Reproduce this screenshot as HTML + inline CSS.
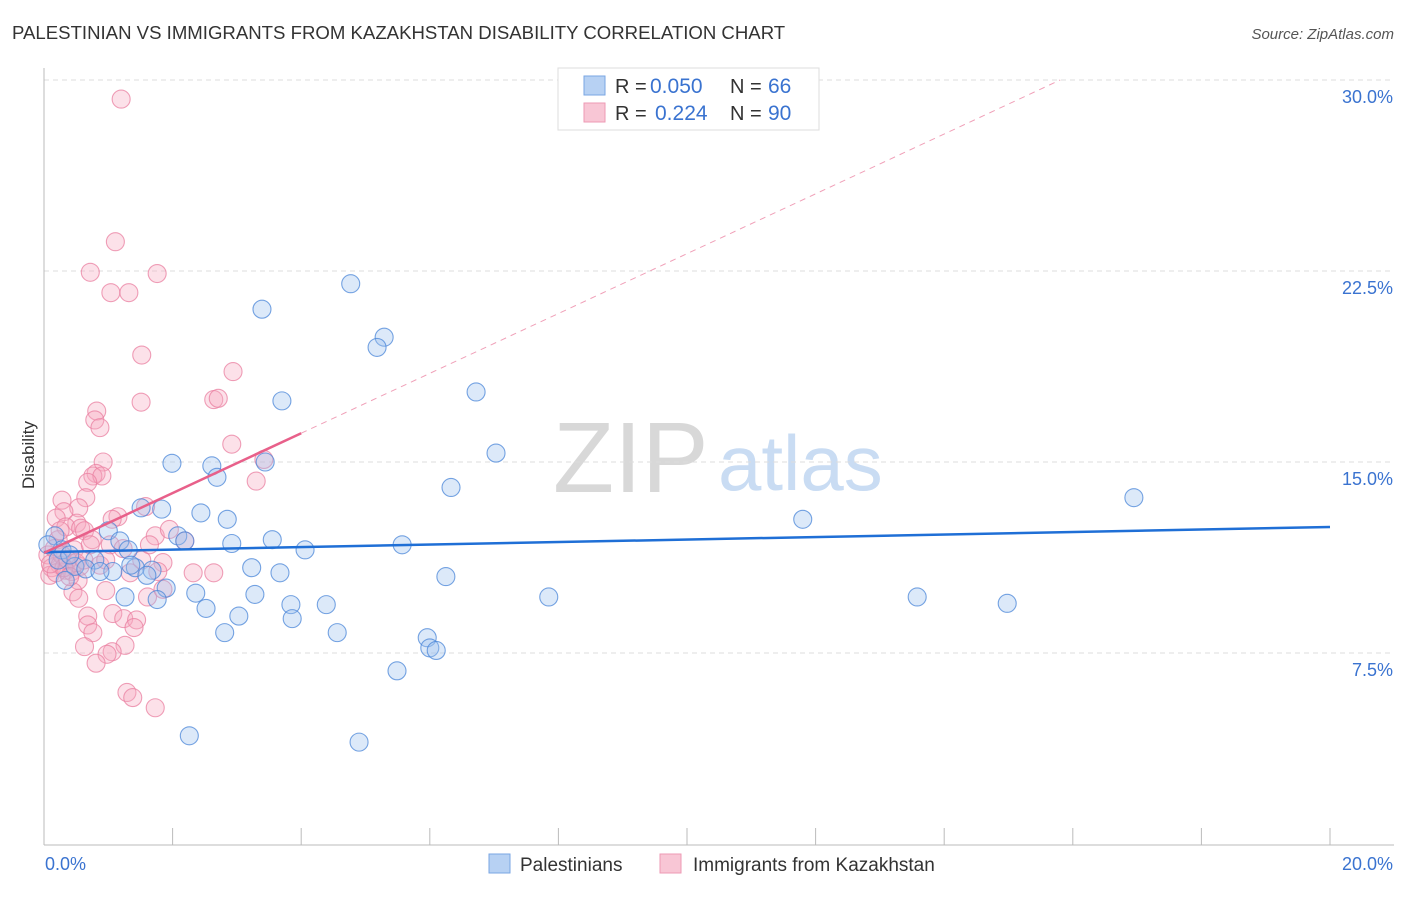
<!DOCTYPE html>
<html><head><meta charset="utf-8"><style>
body{margin:0;background:#fff;font-family:"Liberation Sans",sans-serif;}
svg text{font-family:"Liberation Sans",sans-serif;}
</style></head><body>
<svg id="c" width="1406" height="892" xmlns="http://www.w3.org/2000/svg">
<text x="12" y="39" font-size="18.6" fill="#333">PALESTINIAN VS IMMIGRANTS FROM KAZAKHSTAN DISABILITY CORRELATION CHART</text>
<text x="1394" y="39" font-size="15" fill="#555" font-style="italic" text-anchor="end">Source: ZipAtlas.com</text>
<text x="553" y="492" font-size="100" fill="#d8d8d8" font-family="Liberation Serif">ZIP</text>
<text x="718" y="490" font-size="78" fill="#c9dcf3">atlas</text>
<text x="34" y="455" font-size="17" fill="#333" text-anchor="middle" transform="rotate(-90 34 455)">Disability</text>
<g id="grid"></g><g id="axes"></g><g id="pts"></g><g id="lines"></g>
<g>
<rect x="558" y="68" width="261" height="62" fill="#fff" stroke="#ddd"/>
<rect x="584" y="76" width="21" height="19" fill="#b7d1f3" stroke="#7aa6e3"/>
<text x="615" y="93" font-size="20" fill="#333">R =</text>
<text x="650" y="93" font-size="21" fill="#3a73d0">0.050</text>
<text x="730" y="93" font-size="20" fill="#333">N =</text>
<text x="768" y="93" font-size="21" fill="#3a73d0">66</text>
<rect x="584" y="103" width="21" height="19" fill="#f8c6d5" stroke="#ee9ab4"/>
<text x="615" y="120" font-size="20" fill="#333">R =</text>
<text x="655" y="120" font-size="21" fill="#3a73d0">0.224</text>
<text x="730" y="120" font-size="20" fill="#333">N =</text>
<text x="768" y="120" font-size="21" fill="#3a73d0">90</text>
</g>
<g>
<rect x="489" y="854" width="21" height="19" fill="#b7d1f3" stroke="#7aa6e3"/>
<text x="520" y="871" font-size="19" fill="#333">Palestinians</text>
<rect x="660" y="854" width="21" height="19" fill="#f8c6d5" stroke="#ee9ab4"/>
<text x="693" y="871" font-size="19" fill="#333">Immigrants from Kazakhstan</text>
</g>
</svg>
<script>
const yTicks=[7.5,15,22.5,30];
const yTickLabels=["7.5%","15.0%","22.5%","30.0%"];
const xTickLabels=["0.0%","20.0%"];
const blueX=[4.77,3.39,5.29,5.18,6.72,3.70,7.03,1.99,3.44,2.61,2.69,6.33,16.95,1.51,1.83,2.44,2.85,11.8,1.0,2.08,2.19,1.18,3.55,2.92,5.57,1.31,4.06,0.17,0.28,0.79,0.48,0.65,1.07,1.42,1.68,1.60,3.23,3.67,6.25,0.33,1.9,2.36,1.26,3.28,1.76,7.85,13.58,3.84,4.39,14.98,2.52,3.03,3.86,2.81,4.56,5.96,6.0,6.1,5.49,2.26,4.9,0.06,0.22,0.4,0.87,1.35];
const blueY=[22.0,21.0,19.9,19.5,17.75,17.4,15.35,14.95,15.0,14.85,14.4,14.0,13.6,13.2,13.15,13.0,12.75,12.75,12.3,12.1,11.9,11.9,11.95,11.8,11.75,11.55,11.55,12.1,11.55,11.15,10.9,10.8,10.7,10.85,10.75,10.55,10.85,10.65,10.5,10.35,10.05,9.85,9.7,9.8,9.6,9.7,9.7,9.4,9.4,9.45,9.25,8.95,8.85,8.3,8.3,8.1,7.7,7.6,6.8,4.25,4.0,11.75,11.15,11.35,10.7,10.95];
const pinkX=[1.2,1.11,0.72,1.76,1.04,1.32,1.52,2.94,1.51,2.64,2.71,0.82,0.79,0.87,2.92,3.42,0.92,0.81,0.76,0.9,3.3,0.68,0.65,0.28,1.58,0.54,0.31,0.19,1.15,1.06,0.51,0.34,0.57,0.63,0.22,1.73,2.19,1.03,0.47,0.75,1.23,0.06,0.12,0.25,0.34,0.43,0.56,0.09,1.85,1.34,1.77,2.32,2.64,0.53,0.96,0.45,1.61,1.85,0.54,0.68,1.07,1.24,1.44,0.68,0.76,1.4,0.63,1.26,1.06,0.98,0.81,1.29,1.38,1.73,0.16,0.28,0.37,0.5,0.62,0.19,0.31,0.4,0.87,1.52,1.95,0.25,0.72,0.96,1.64,0.1];
const pinkY=[29.25,23.65,22.45,22.4,21.65,21.65,19.2,18.55,17.35,17.45,17.5,17.0,16.65,16.35,15.7,15.1,15.0,14.55,14.45,14.45,14.25,14.2,13.6,13.5,13.25,13.2,13.05,12.8,12.85,12.75,12.6,12.45,12.4,12.3,11.95,12.1,11.9,11.75,11.55,11.95,11.6,11.35,10.85,10.95,10.75,10.7,10.9,10.55,11.05,10.65,10.7,10.65,10.65,10.35,9.95,9.9,9.7,10.0,9.65,8.95,9.05,8.85,8.8,8.6,8.3,8.5,7.75,7.8,7.55,7.45,7.1,5.95,5.75,5.35,11.6,11.35,11.15,11.05,11.15,10.65,10.85,10.5,10.95,11.15,12.35,12.3,11.75,11.15,11.75,11.0];
const blueTrend=[11.46,0.0495];
const pinkTrend=[11.43,1.175];
const X0=44,X1=1330,Y0=844,Y1=80;
const sx=v=>X0+(X1-X0)*v/20, sy=v=>Y0-(Y0-Y1)*v/30;
const NS="http://www.w3.org/2000/svg";
function mk(p,t,a){const e=document.createElementNS(NS,t);for(const k in a)e.setAttribute(k,a[k]);document.getElementById(p).appendChild(e);return e;}
yTicks.forEach((t,i)=>{
const g=mk('grid','line',{x1:X0,x2:1394,y1:sy(t),y2:sy(t),stroke:'#ddd','stroke-dasharray':'5,4'});


const l=mk('grid','text',{x:1393,y:sy(t)+23,'font-size':18,fill:'#3a73d0','text-anchor':'end'});
l.textContent=yTickLabels[i];


});
const ax=mk('axes','line',{x1:X0,x2:X0,y1:68,y2:845,stroke:'#bbb'});


const bx=mk('axes','line',{x1:X0,x2:1394,y1:845,y2:845,stroke:'#bbb'});


for(let i=0;i<=10;i++){const t=mk('axes','line',{x1:sx(i*2),x2:sx(i*2),y1:828,y2:845,stroke:'#bbb'});

}
[[0,'start',45],[20,'end',1393]].forEach((d,i)=>{const t=mk('axes','text',{x:d[2],y:870,'font-size':18,fill:'#3a73d0','text-anchor':d[1]});t.textContent=xTickLabels[i];

});
function dots(xs,ys,fill,stroke,name){xs.forEach((x,i)=>{const c=mk('pts','circle',{cx:sx(x),cy:sy(ys[i]),r:9,fill:fill,'fill-opacity':0.35,stroke:stroke,'stroke-width':1.1,'stroke-opacity':0.75});

});}
dots(pinkX,pinkY,'#f5a9c0','#ea7fa0','point-kazakhstan');
dots(blueX,blueY,'#9cc0ef','#4a86d8','point-palestinians');
const bl=mk('lines','line',{x1:sx(0),y1:sy(blueTrend[0]),x2:sx(20),y2:sy(blueTrend[0]+blueTrend[1]*20),stroke:'#1f6fd6','stroke-width':2.5});


const pxEnd=(30-pinkTrend[0])/pinkTrend[1];
const pd=mk('lines','line',{x1:sx(4),y1:sy(pinkTrend[0]+pinkTrend[1]*4),x2:sx(pxEnd),y2:sy(30),stroke:'#f0a0b8','stroke-width':1,'stroke-dasharray':'6,5'});


const pl=mk('lines','line',{x1:sx(0),y1:sy(pinkTrend[0]),x2:sx(4),y2:sy(pinkTrend[0]+pinkTrend[1]*4),stroke:'#e8608a','stroke-width':2.5});


</script>
</body></html>
